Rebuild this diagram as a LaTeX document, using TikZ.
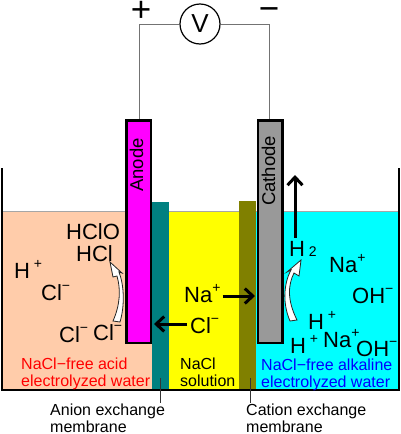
\documentclass[tikz,border=0pt]{standalone}
\usepackage{fontspec}
\setmainfont{Liberation Sans}
\usetikzlibrary{arrows.meta, shapes.geometric}
\definecolor{acidwater}{HTML}{FFCCAA}
\definecolor{cathodegray}{HTML}{999999}
\definecolor{saltwater}{HTML}{FFFF00}
\definecolor{alkaliwater}{HTML}{00FFFF}
\definecolor{anodepink}{HTML}{FF00FF}
\definecolor{anionteal}{HTML}{008080}
\definecolor{cationolive}{HTML}{808000}
\definecolor{acidred}{HTML}{FF0000}
\definecolor{alkaliblue}{HTML}{0000FF}
\newcommand{\ionsup}[1]{\raisebox{0.42em}{\fontsize{14}{14}\selectfont #1}}
\tikzstyle{ion} = [anchor=base west, inner sep=0pt, font=\fontsize{22}{22}\selectfont]
\tikzstyle{caption} = [anchor=base west, inner sep=0pt, align=left, font=\fontsize{16}{16.5}\selectfont]
\tikzstyle{electrode} = [rectangle, anchor=north west, minimum width=24.5pt, minimum height=222.5pt, inner sep=0pt, draw=black, line width=2.5pt]
\tikzstyle{membrane} = [rectangle, anchor=north west, minimum width=17pt, inner sep=0pt]
\tikzstyle{arrow} = [line width=3pt, -{Straight Barb[length=8pt, width=15pt]}]
\tikzstyle{wire} = [draw=black!55, line width=1pt]
\tikzstyle{hollow} = [draw=black!85, fill=white, line width=0.8pt]
\tikzstyle{terminal} = [anchor=base, inner sep=0pt, font=\fontsize{35}{35}\selectfont]

\begin{document}
\begin{tikzpicture}[x=1pt, y=-1pt]
\useasboundingbox (0,0) rectangle (401,434);

% Water
\fill [acidwater] (3,211) rectangle (153,390);
\fill [saltwater] (169,211) rectangle (240,390);
\fill [alkaliwater] (256,211) rectangle (399,390);
\draw [black!35, line width=1pt] (3,211) -- (399,211);

% Membranes
\node (anionmem) [membrane, fill=anionteal, minimum height=188pt] at (152,202) {};
\node (cationmem) [membrane, fill=cationolive, minimum height=189pt] at (239,201) {};

% Tank
\draw [line width=2.5pt] (2,168) -- (2,390) -- (399,390) -- (399,168);

% Electrodes and meter
\node (anode) [electrode, fill=anodepink] at (125,119) {};
\node (cathode) [electrode, fill=cathodegray] at (256.5,119) {};
\node (anodetext) [rotate=90, inner sep=0pt, font=\fontsize{18.5}{18.5}\selectfont] at (136.5,165) {Anode};
\node (cathodetext) [rotate=90, inner sep=0pt, font=\fontsize{18.5}{18.5}\selectfont] at (268.5,171) {Cathode};
\node (meter) [circle, draw=black, line width=1.2pt, fill=white, minimum size=40pt, inner sep=0pt, font=\fontsize{26}{26}\selectfont] at (200,24) {V};
\node (plus) [terminal] at (141,21.5) {+};
\node (minus) [terminal] at (269,20.5) {−};
\draw [wire] (meter.west) -| (anode.north -| 139.5,0);
\draw [wire] (meter.east) -| (cathode.north -| 269,0);

% Left chamber
\node (hclo) [ion] at (66,239) {HClO};
\node (hcl) [ion] at (76,261) {HCl};
\node (hleft) [ion] at (14,278) {H\,\ionsup{+}};
\node (clleft) [ion] at (41,300) {Cl\ionsup{−}};
\node (clone) [ion] at (59,342) {Cl\ionsup{−}};
\node (cltwo) [ion] at (93,340) {Cl\ionsup{−}};
\node (acidtext) [caption, text=acidred] at (21,386) {NaCl−free acid\\electrolyzed water};
\draw [hollow] (110,262) -- (122,273) -- (119,272) .. controls (124,285) and (125,305) .. (120,322) -- (113,321) .. controls (120,305) and (121,290) .. (117,276) -- (113,277) -- cycle;

% Middle chamber
\node (naion) [ion] at (184,302) {Na\ionsup{+}};
\node (clion) [ion] at (190,333) {Cl\ionsup{−}};
\node (saltext) [caption] at (180,386) {NaCl\\solution};
\coordinate (anodeface) at (154,324);
\coordinate (cathodeface) at (255,296);
\draw [arrow] (clion.west |- anodeface) ++(-3,0) -- (anodeface);
\draw [arrow] (naion.east |- cathodeface) ++(2,0) -- (cathodeface);

% Right chamber
\node (htwo) [ion] at (289,256) {H\,\raisebox{-0.02em}{\fontsize{14}{14}\selectfont 2}};
\node (naright) [ion] at (329,272) {Na\ionsup{+}};
\node (ohright) [ion] at (352,303) {OH\ionsup{−}};
\node (hup) [ion] at (308,329) {H\,\ionsup{+}};
\node (namid) [ion] at (323,347) {Na\ionsup{+}};
\node (hlow) [ion] at (290,353) {H\,\ionsup{+}};
\node (ohlow) [ion] at (356,356) {OH\ionsup{−}};
\node (alkalitext) [caption, text=alkaliblue] at (261,387) {NaCl−free alkaline\\electrolyzed water};
\coordinate (gastop) at (295,175);
\draw [arrow] (htwo.north -| gastop) ++(0,-3) -- (gastop);
\draw [hollow] (301,260) -- (299,276) -- (294,273) .. controls (288,285) and (287,300) .. (297,320) -- (290,321) .. controls (283,305) and (283,285) .. (291,270) -- (287,272) -- cycle;

% Membrane labels
\node (anionlabel) [caption, text=black] at (50,432) {Anion exchange\\membrane};
\node (cationlabel) [caption, text=black] at (246,432) {Cation exchange\\membrane};
\coordinate (anionmark) at (160,378);
\coordinate (cationmark) at (250,378);
\draw [black!80, line width=1pt] (anionmark) -- (160,403);
\draw [black!80, line width=1pt] (cationmark) -- (250,403);

\end{tikzpicture}
\end{document}
